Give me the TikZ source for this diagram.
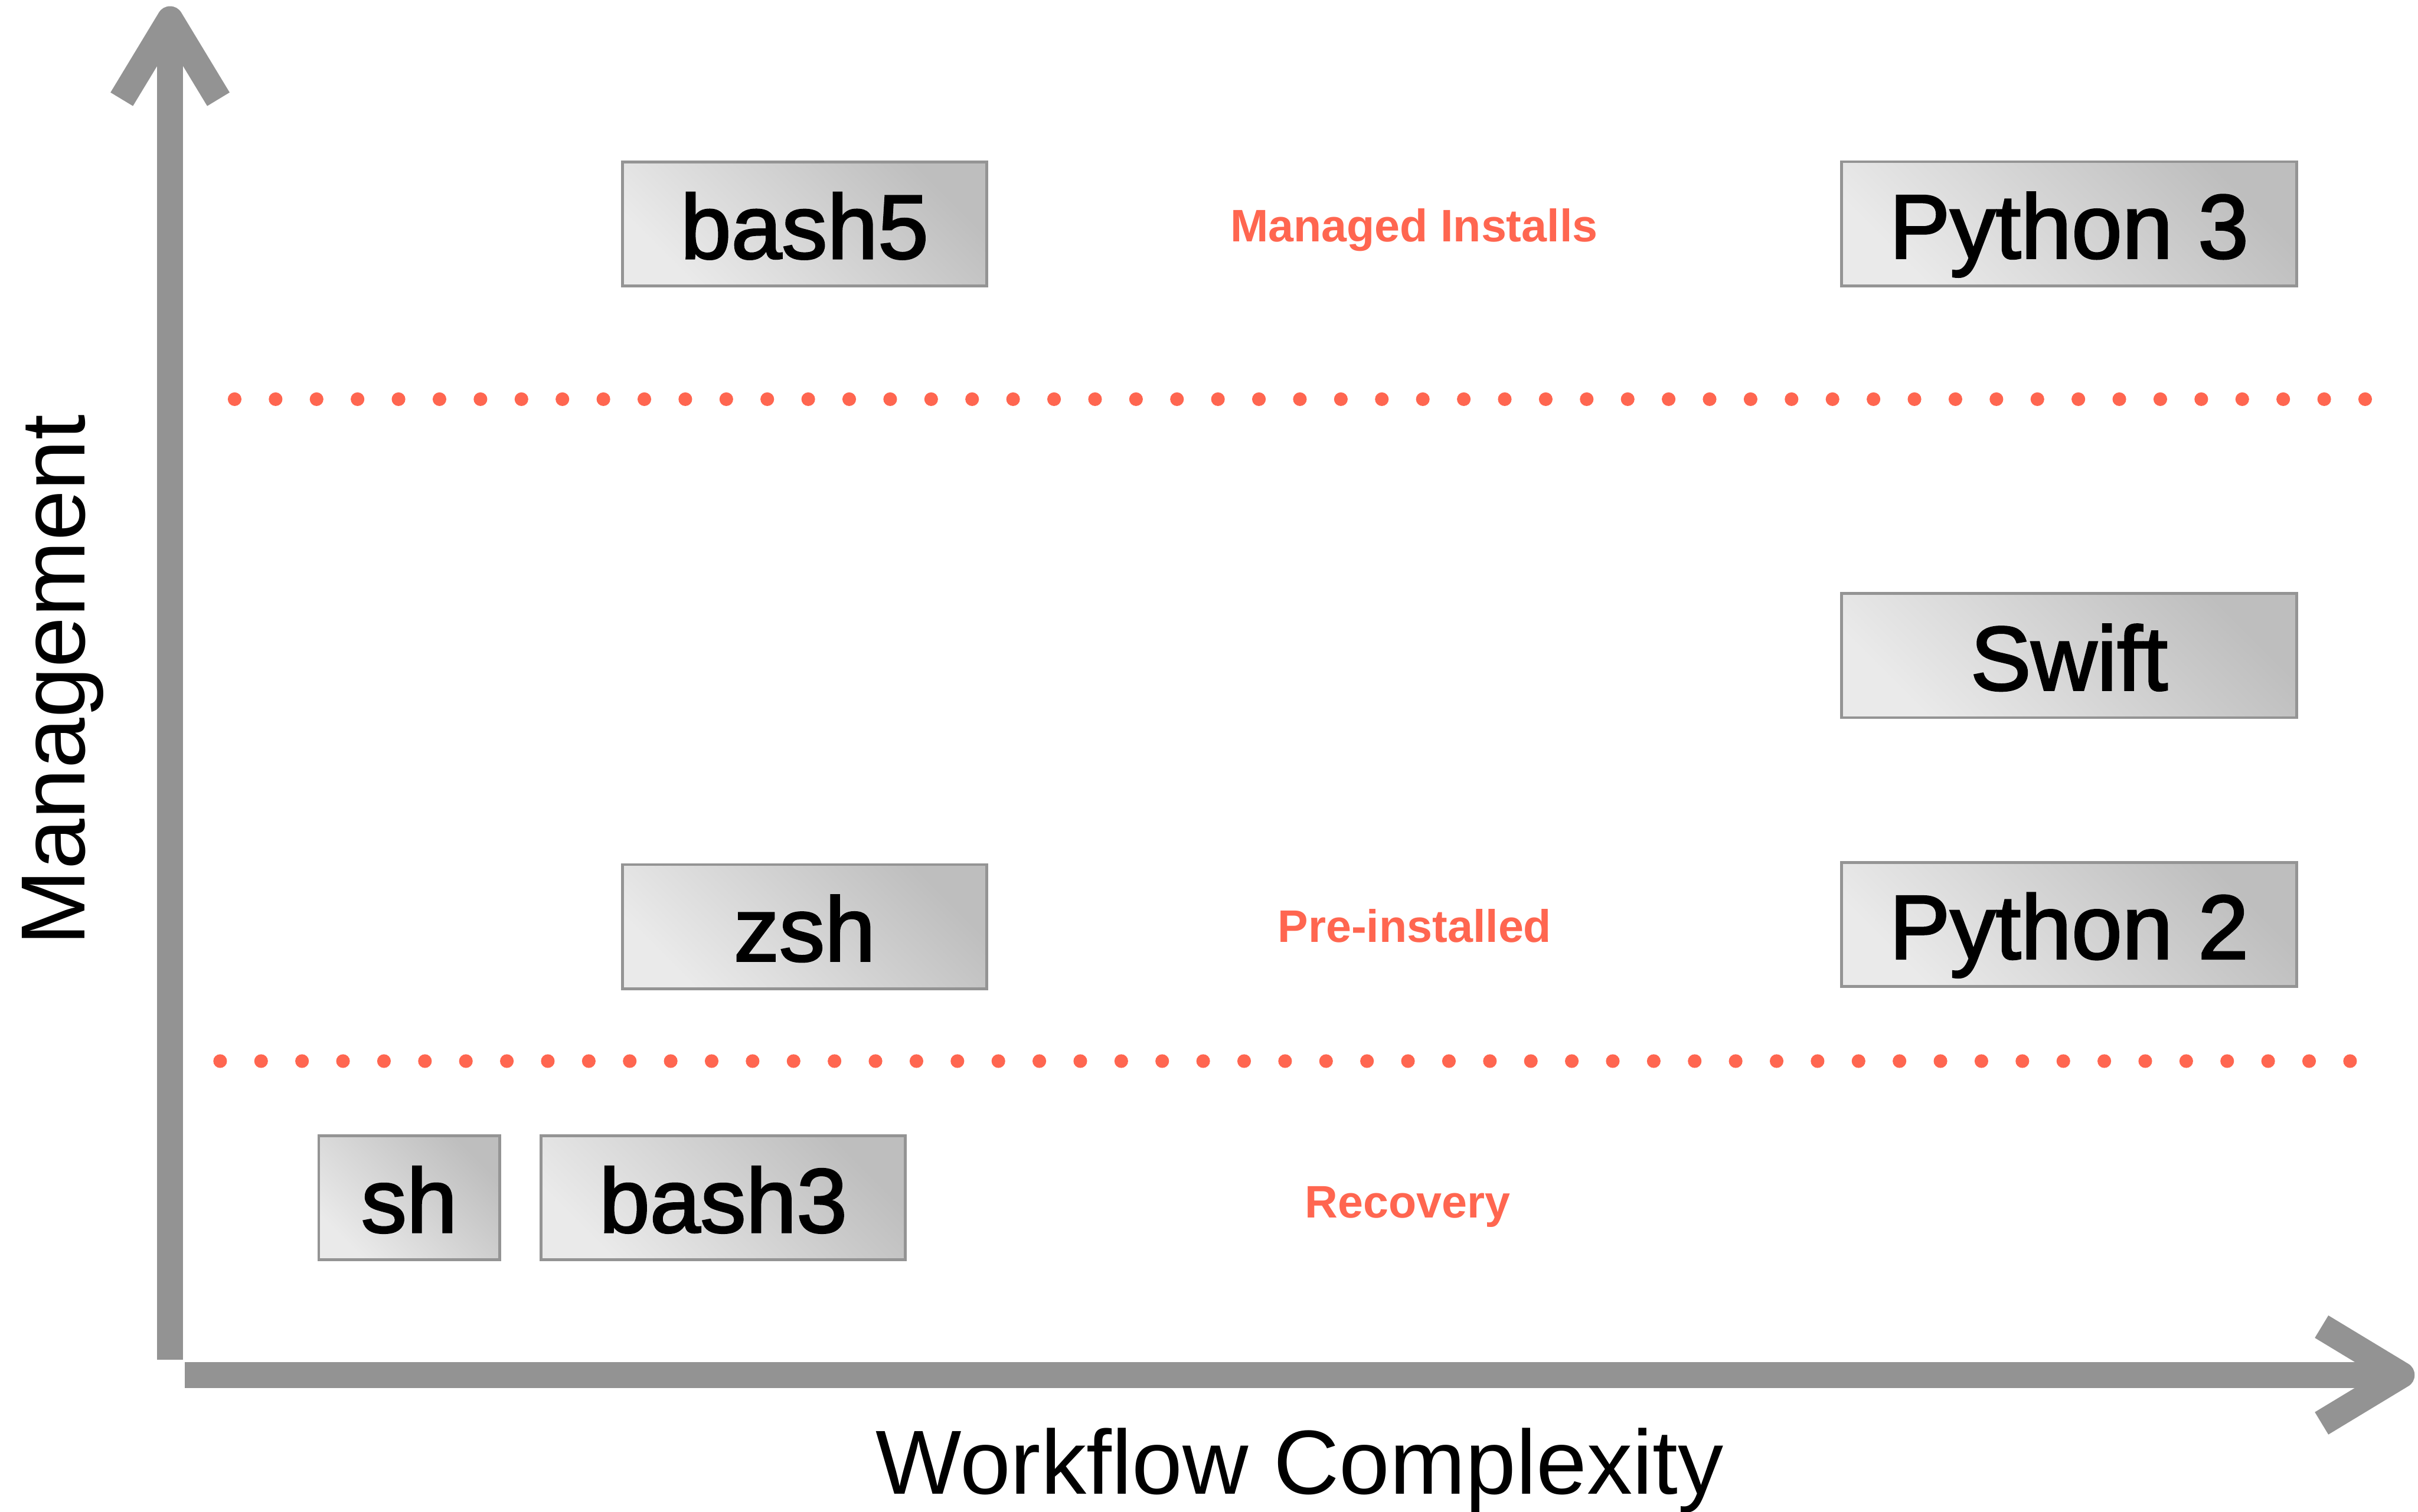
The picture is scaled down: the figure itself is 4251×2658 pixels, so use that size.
\documentclass[tikz,border=0pt]{standalone}
\usepackage{fontspec}
\setmainfont{Liberation Sans}
\newfontfamily\shellfont[FakeBold=2]{Liberation Sans}

\definecolor{axisgray}{RGB}{147,147,147}
\definecolor{boxedge}{RGB}{148,148,148}
\definecolor{boxlight}{RGB}{234,234,234}
\definecolor{boxdark}{RGB}{190,190,190}
\definecolor{tierred}{RGB}{255,102,80}

\tikzset{
  shellbox/.style={draw=boxedge, line width=0.05cm,
    top color=boxdark, bottom color=boxlight, shading angle=-45,
    minimum height=2.18cm, inner sep=0pt,
    text height=1.56cm, text depth=0.35cm,
    font=\shellfont\fontsize{45.5}{50}\selectfont, text=black},
  tierlabel/.style={anchor=base, inner sep=0pt, text=tierred,
    font=\bfseries\fontsize{22.8}{26}\selectfont},
  axislabel/.style={anchor=base, inner sep=0pt, text=black,
    font=\fontsize{45.5}{50}\selectfont},
  axisline/.style={draw=axisgray, line width=0.46cm, line cap=butt},
  axishead/.style={axisline, line join=round},
  tierdot/.style={fill=tierred},
}

\begin{document}
\begin{tikzpicture}[x=0.01cm, y=-0.01cm]
  % canvas
  \fill[white] (0,0) rectangle (4251,2658);
  \useasboundingbox (0,0) rectangle (4251,2658);

  % axes
  \coordinate (ybot) at (299,2391);
  \coordinate (ytip) at (299,34);
  \coordinate (xleft) at (325,2418);
  \coordinate (xtip) at (4222,2418);
  \draw[axisline] (ybot) -- (ytip);
  \draw[axishead] (ytip) +(-85,140.5) -- (ytip) -- +(85,140.5);
  \draw[axisline] (xleft) -- (xtip);
  \draw[axishead] (xtip) +(-140.5,-85) -- (xtip) -- +(-140.5,85);

  % tier separators
  \foreach \k in {0,...,52}{
    \fill[tierdot] (412.5+72.03*\k,702) circle[radius=0.12cm];
    \fill[tierdot] (387+72.01*\k,1866) circle[radius=0.12cm];
  }

  % tier labels
  \node[tierlabel] (managed) at (2486,425) {Managed Installs};
  \node[tierlabel] (preinst) at (2487,1657) {Pre-installed};
  \node[tierlabel] (recovery) at (2475,2142) {Recovery};

  % shells and languages
  \node[shellbox, minimum width=6.40cm] (bashfive) at (1414.5,394) {bash5};
  \node[shellbox, minimum width=6.40cm] (zsh) at (1414.5,1629.5) {zsh};
  \node[shellbox, minimum width=3.18cm] (sh) at (719.5,2106.5) {sh};
  \node[shellbox, minimum width=6.40cm] (bashthree) at (1271.5,2106.5) {bash3};
  \node[shellbox, minimum width=8.00cm] (pythree) at (3637.5,393.5) {Python 3};
  \node[shellbox, minimum width=8.00cm] (swift) at (3637.5,1153) {Swift};
  \node[shellbox, minimum width=8.00cm] (pytwo) at (3637.5,1625.5) {Python 2};

  % axis titles
  \node[axislabel] (xlabel) at (2285,2627) {Workflow Complexity};
  \node[axislabel, rotate=90] (ylabel) at (149,1196) {Management};
\end{tikzpicture}
\end{document}
